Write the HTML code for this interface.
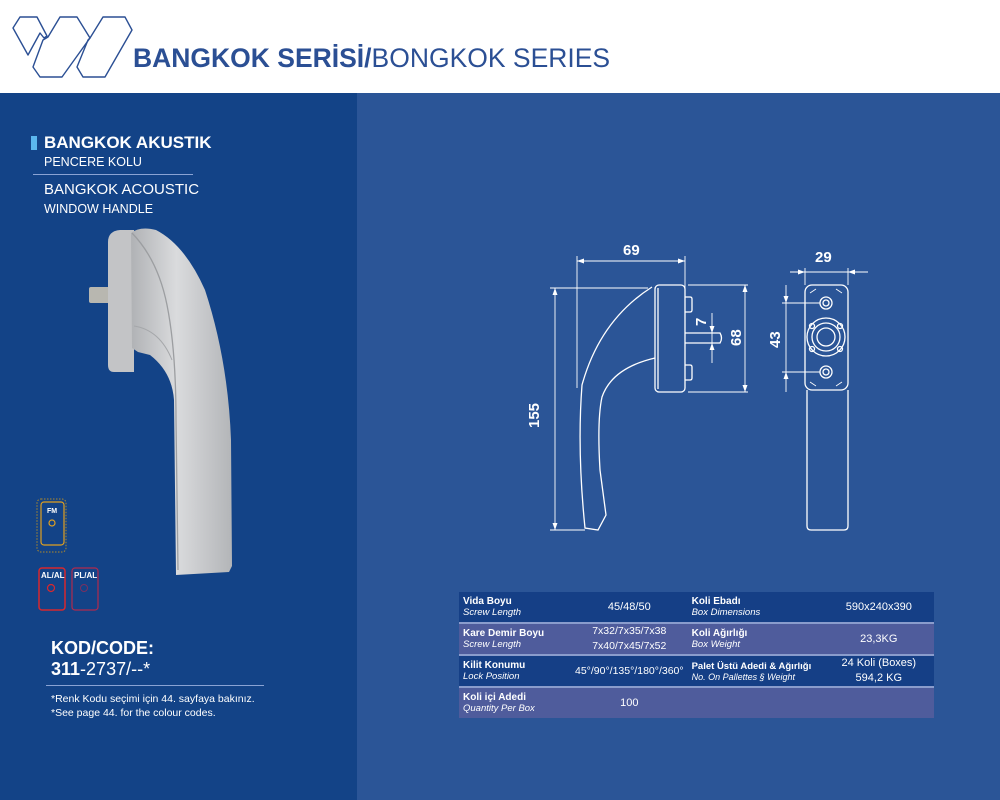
<!DOCTYPE html>
<html><head><meta charset="utf-8"><style>
*{margin:0;padding:0;box-sizing:border-box}
body{width:1000px;height:800px;overflow:hidden;font-family:"Liberation Sans","DejaVu Sans",sans-serif;background:#2b5597;position:relative}
.hdr{position:absolute;left:0;top:0;width:1000px;height:93px;background:#fff}
.left{position:absolute;left:0;top:93px;width:357px;height:707px;background:#134387}
.t{position:absolute;color:#fff;white-space:nowrap}
table{position:absolute;left:459px;top:592px;width:475px;border-collapse:collapse;color:#fff}
td{font-size:10px;padding:0 4px;height:31px;vertical-align:middle;border-bottom:2px solid #8a9ccc}
tr.d td{background:#153f86}
tr.l td{background:#4f5c9c}
td b{font-size:10px}
td i{font-size:9.5px;display:block}
td.c{text-align:center;font-size:11px;line-height:15px}
</style></head><body>
<div class="hdr">
<svg width="140" height="93" style="position:absolute;left:0;top:0" fill="none" stroke="#2b4f94" stroke-width="1.4" stroke-linejoin="round">
<path d="M13 28 L20 17 L37 17 L47 36 L44 38 L40 33 L28 55 Z"/>
<path d="M60 17 L77 17 L90 38 L62 77 L40 77 L33 67 L43 40 L48 37 Z"/>
<path d="M103 17 L125 17 L132 30 L105 77 L83 77 L77 67 L88 40 L90 38 Z"/>
</svg>
<div class="t" style="left:133px;top:43px;color:#2b4f94;font-size:26.5px"><b>BANGKOK SERİSİ/</b>BONGKOK SERIES</div>
</div>
<div class="left"></div>
<div style="position:absolute;left:31px;top:136px;width:6px;height:14px;background:#5bb7ee"></div>
<div class="t" style="left:44px;top:133px;font-size:17px;font-weight:bold">BANGKOK AKUSTIK</div>
<div class="t" style="left:44px;top:155px;font-size:12.5px">PENCERE KOLU</div>
<div style="position:absolute;left:33px;top:174px;width:160px;height:1px;background:#8aa3d4"></div>
<div class="t" style="left:44px;top:181px;font-size:15px">BANGKOK ACOUSTIC</div>
<div class="t" style="left:44px;top:202px;font-size:12.5px">WINDOW HANDLE</div>
<svg width="357" height="707" style="position:absolute;left:0;top:0">
<defs><linearGradient id="g" x1="0" x2="1"><stop offset="0" stop-color="#b0b2b5"/><stop offset=".45" stop-color="#dadbdd"/><stop offset="1" stop-color="#b3b5b8"/></linearGradient></defs>
<rect x="89" y="287" width="22" height="16" rx="2" fill="#b8b7b0"/>
<path d="M108 242 Q108 231 120 230 L134 230 L134 372 L114 372 Q108 372 108 365 Z" fill="#c3c4c6"/>
<path d="M131 233 Q140 226 156 230 Q185 245 205 290 Q228 360 231 440 L232 566 L229 572 L176 575 L174 400 Q172 372 150 355 L138 352 L132 348 Z" fill="url(#g)"/>
<path d="M132 233 Q158 260 167 305 Q176 350 176 420 L178 570" stroke="#9c9ea1" stroke-width="1.3" fill="none"/>
<path d="M134 326 Q160 330 172 360" stroke="#a5a7aa" stroke-width="1" fill="none"/>
<rect x="37" y="499" width="29" height="53" rx="4" fill="none" stroke="#b08a2a" stroke-dasharray="1.5 1.5"/>
<rect x="41" y="502" width="23" height="43" rx="3" fill="none" stroke="#e0a020" stroke-width="1.2"/>
<circle cx="52" cy="523" r="3" fill="none" stroke="#e0a020" stroke-width="1.2"/>
<rect x="39" y="568" width="26" height="42" rx="3" fill="none" stroke="#d8282e" stroke-width="1.5"/>
<circle cx="51" cy="588" r="3.5" fill="none" stroke="#d8282e" stroke-width="1.2"/>
<rect x="72" y="568" width="26" height="42" rx="3" fill="none" stroke="#b02a4e" stroke-width="1.2"/>
<circle cx="84" cy="588" r="3.5" fill="none" stroke="#7a3060" stroke-width="1"/>
<text x="41" y="578" fill="#fff" font-size="8" font-weight="bold" font-family="Liberation Sans">AL/AL</text>
<text x="74" y="578" fill="#fff" font-size="8" font-weight="bold" font-family="Liberation Sans">PL/AL</text>
<text x="47" y="513" fill="#fff" font-size="7" font-weight="bold" font-family="Liberation Sans">FM</text>
</svg>
<div class="t" style="left:51px;top:638px;font-size:18px;font-weight:bold">KOD/CODE:</div>
<div class="t" style="left:51px;top:659px;font-size:18px"><b>311</b>-2737/--*</div>
<div style="position:absolute;left:46px;top:685px;width:218px;height:1px;background:#8aa3d4"></div>
<div class="t" style="left:51px;top:693px;font-size:10.5px">*Renk Kodu seçimi için 44. sayfaya bakınız.</div>
<div class="t" style="left:51px;top:707px;font-size:10.5px">*See page 44. for the colour codes.</div>

<svg width="1000" height="800" style="position:absolute;left:0;top:0" fill="none" stroke="#fff" stroke-width="1.3">
<path d="M652 287 Q600 320 582 385 Q577 450 585 528 L598 530 L606 515 L600 470 Q597 420 602 397 Q612 368 655 358"/>
<rect x="655" y="285" width="30" height="107" rx="4"/>
<line x1="658" y1="288" x2="658" y2="389"/>
<path d="M685 297 h5 q2 0 2 2 v11 q0 2 -2 2 h-5 M685 365 h5 q2 0 2 2 v11 q0 2 -2 2 h-5"/>
<path d="M685 333 h35 q3 5 0 10 h-35"/>
<g stroke-width="0.9">
<line x1="577" y1="256" x2="577" y2="388"/><line x1="685" y1="256" x2="685" y2="288"/>
<line x1="577" y1="261" x2="685" y2="261"/>
<line x1="550" y1="288" x2="648" y2="288"/><line x1="550" y1="530" x2="585" y2="530"/>
<line x1="555" y1="288" x2="555" y2="530"/>
<line x1="688" y1="285" x2="748" y2="285"/><line x1="688" y1="392" x2="748" y2="392"/>
<line x1="745" y1="285" x2="745" y2="392"/>
<line x1="712" y1="313" x2="712" y2="363"/>
<line x1="790" y1="272" x2="868" y2="272"/><line x1="805" y1="268" x2="805" y2="285"/><line x1="848" y1="268" x2="848" y2="285"/>
<line x1="786" y1="285" x2="786" y2="392"/><line x1="782" y1="303" x2="820" y2="303"/><line x1="782" y1="372" x2="820" y2="372"/>
</g>
<g fill="#fff" stroke="none">
<path d="M577 261 l7 -2.5 v5z M685 261 l-7 -2.5 v5z M555 288 l-2.5 7 h5z M555 530 l-2.5 -7 h5z M745 285 l-2.5 7 h5z M745 392 l-2.5 -7 h5z M712 333 l-2.5 -7 h5z M712 343 l-2.5 7 h5z M805 272 l-7 -2.5 v5z M848 272 l7 -2.5 v5z M786 303 l-2.5 -7 h5z M786 372 l-2.5 7 h5z"/>
</g>
<rect x="805" y="285" width="43" height="105" rx="7"/>
<path d="M807 390 V526 q0 4 4 4 h33 q4 0 4 -4 V390"/>
<circle cx="826" cy="303" r="6"/><circle cx="826" cy="303" r="3"/>
<circle cx="826" cy="372" r="6"/><circle cx="826" cy="372" r="3"/>
<circle cx="826" cy="337" r="19"/><circle cx="826" cy="337" r="14"/><circle cx="826" cy="337" r="9"/>
<circle cx="812" cy="326" r="2.5"/><circle cx="840" cy="326" r="2.5"/><circle cx="812" cy="349" r="2.5"/><circle cx="840" cy="349" r="2.5"/>
<path d="M810 293 l6 -4 M842 293 l-6 -4 M810 382 l6 4 M842 382 l-6 4" stroke-width="0.8"/>
<g fill="#fff" stroke="none" font-family="Liberation Sans" font-weight="bold" font-size="15">
<text x="623" y="255">69</text>
<text x="815" y="262">29</text>
<text transform="translate(539 428) rotate(-90)">155</text>
<text transform="translate(741 346) rotate(-90)">68</text>
<text transform="translate(780 348) rotate(-90)">43</text>
<text transform="translate(706 326) rotate(-90)">7</text>
</g>
</svg>

<table>
<tr class="d"><td style="width:112px"><b>Vida Boyu</b><i>Screw Length</i></td><td class="c" style="width:96px">45/48/50</td><td style="width:136px"><b>Koli Ebadı</b><i>Box Dimensions</i></td><td class="c">590x240x390</td></tr>
<tr class="l"><td><b>Kare Demir Boyu</b><i>Screw Length</i></td><td class="c" style="font-size:10.5px">7x32/7x35/7x38<br>7x40/7x45/7x52</td><td><b>Koli Ağırlığı</b><i>Box Weight</i></td><td class="c">23,3KG</td></tr>
<tr class="d"><td><b>Kilit Konumu</b><i>Lock Position</i></td><td class="c" style="font-size:10.5px">45°/90°/135°/180°/360°</td><td><b style="font-size:9.5px">Palet Üstü Adedi &amp; Ağırlığı</b><i style="font-size:9px">No. On Pallettes § Weight</i></td><td class="c">24 Koli (Boxes)<br>594,2 KG</td></tr>
<tr class="l"><td style="border:none"><b>Koli içi Adedi</b><i>Quantity Per Box</i></td><td class="c" style="border:none">100</td><td style="border:none"></td><td style="border:none"></td></tr>
</table>
</body></html>
